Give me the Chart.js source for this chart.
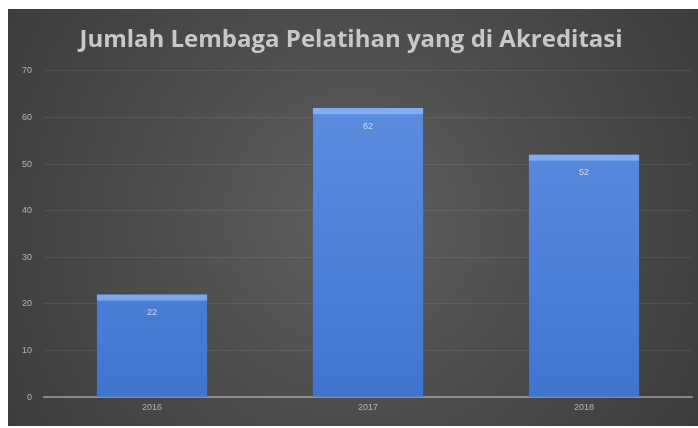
<!DOCTYPE html>
<html>
<head>
<meta charset="utf-8">
<script src="https://cdn.jsdelivr.net/npm/chart.js@4/dist/chart.umd.min.js"></script>
<style>
  html, body { margin: 0; padding: 0; background: #ffffff; }
  #wrap { position: absolute; left: 8px; top: 9px; width: 690px; height: 417px; }
</style>
</head>
<body>
<div id="wrap"><canvas id="c"></canvas></div>
<script>
const chartTitle = 'Jumlah Lembaga Pelatihan yang di Akreditasi';
const categories = ['2016', '2017', '2018'];
const values = [22, 62, 52];
const yTicks = [0, 10, 20, 30, 40, 50, 60, 70];

// dark backdrop with a soft lighter centre
const backdrop = {
  id: 'backdrop',
  beforeDraw(chart) {
    const { ctx, width, height } = chart;
    const g = ctx.createRadialGradient(width / 2, height / 2, 20, width / 2, height / 2, width * 0.62);
    g.addColorStop(0, '#5c5c5c');
    g.addColorStop(1, '#3a3a3a');
    ctx.save();
    ctx.fillStyle = g;
    ctx.fillRect(0, 0, width, height);
    ctx.restore();
  }
};

// light bevel on top of each bar and the value printed just inside it
const barDecor = {
  id: 'barDecor',
  afterDatasetsDraw(chart) {
    const { ctx } = chart;
    const meta = chart.getDatasetMeta(0);
    ctx.save();
    meta.data.forEach((bar, i) => {
      const left = bar.x - bar.width / 2;
      ctx.fillStyle = 'rgba(170,200,255,0.55)';
      ctx.fillRect(left, bar.y, bar.width, 6);
      ctx.fillStyle = 'rgba(225,232,245,0.85)';
      ctx.font = '9px "Liberation Sans", sans-serif';
      ctx.textAlign = 'center';
      ctx.textBaseline = 'middle';
      ctx.fillText(String(values[i]), bar.x, bar.y + 18);
    });
    ctx.restore();
  }
};

const ctx = document.getElementById('c').getContext('2d');
const barGrad = ctx.createLinearGradient(0, 60, 0, 400);
barGrad.addColorStop(0, '#5f8fe0');
barGrad.addColorStop(1, '#3f74cf');

new Chart(ctx, {
  type: 'bar',
  data: {
    labels: categories,
    datasets: [{
      data: values,
      backgroundColor: barGrad,
      borderWidth: 0,
      categoryPercentage: 1.0,
      barPercentage: 0.51
    }]
  },
  options: {
    responsive: true,
    maintainAspectRatio: false,
    animation: false,
    layout: { padding: { left: 2, right: 6, top: 2, bottom: 8 } },
    plugins: {
      legend: { display: false },
      tooltip: { enabled: false },
      title: {
        display: true,
        text: chartTitle,
        color: '#c8c8c8',
        font: { family: '"Open Sans", sans-serif', size: 24, weight: 'bold' },
        padding: { top: 15, bottom: 16 }
      }
    },
    scales: {
      x: {
        grid: { display: false, drawTicks: false },
        border: { display: true, color: 'rgba(190,190,190,0.55)', width: 2 },
        ticks: {
          color: '#b4b4b4',
          font: { family: '"Liberation Sans", sans-serif', size: 9 },
          padding: 5
        }
      },
      y: {
        min: 0,
        max: 70,
        afterBuildTicks(scale) { scale.ticks = yTicks.map(v => ({ value: v })); },
        grid: { color: 'rgba(255,255,255,0.08)', drawTicks: false },
        border: { display: false },
        ticks: {
          color: '#b4b4b4',
          font: { family: '"Liberation Sans", sans-serif', size: 9 },
          padding: 12
        }
      }
    }
  },
  plugins: [backdrop, barDecor]
});
</script>
</body>
</html>
